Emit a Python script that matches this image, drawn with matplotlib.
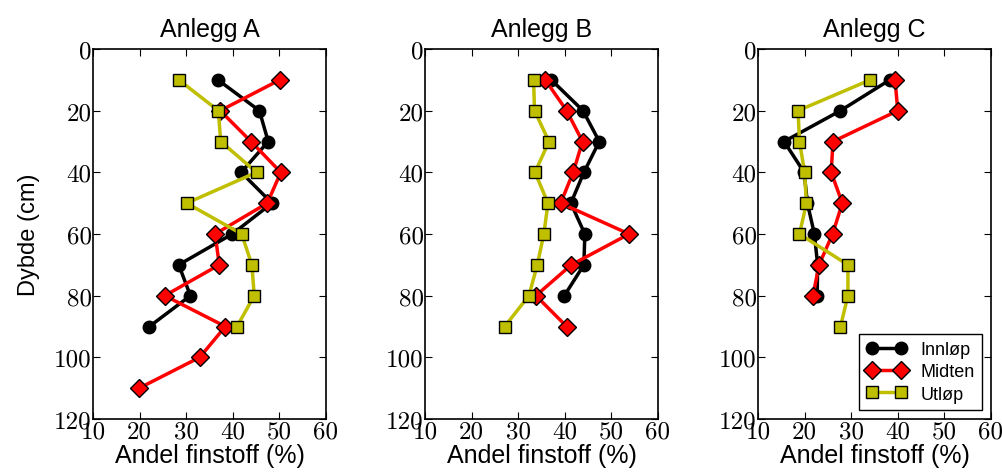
import matplotlib
matplotlib.use("Agg")
import matplotlib.pyplot as plt

plt.rcParams["font.family"] = ["Liberation Sans", "DejaVu Sans"]
plt.rcParams["axes.formatter.use_mathtext"] = True

# depth (cm)
depth_A = [10, 20, 30, 40, 50, 60, 70, 80, 90, 100, 110]
depth_B = [10, 20, 30, 40, 50, 60, 70, 80, 90]
depth_C = [10, 20, 30, 40, 50, 60, 70, 80, 90]

# Anlegg A
innlop_A = [36.8, 45.7, 47.6, 41.8, 48.4, 39.9, 28.4, 30.9, 22.1]
midten_A = [50.1, 37.3, 43.9, 50.3, 47.4, 36.2, 37.1, 25.4, 38.4, 32.9, 19.9]
utlop_A = [28.4, 36.9, 37.4, 45.1, 30.1, 41.9, 44.1, 44.6, 40.9]

# Anlegg B
innlop_B = [37.1, 43.9, 47.4, 44.1, 41.3, 44.3, 44.1, 39.9]
midten_B = [35.8, 40.4, 43.8, 41.8, 39.1, 53.8, 41.4, 33.8, 40.4]
utlop_B = [33.3, 33.5, 36.6, 33.6, 36.4, 35.5, 34.1, 32.3, 27.1]

# Anlegg C
innlop_C = [38.3, 27.7, 15.6, 19.9, 20.6, 22.1, 22.8, 22.7]
midten_C = [39.4, 40.0, 26.1, 25.7, 28.1, 26.0, 23.1, 21.8]
utlop_C = [34.1, 18.6, 18.9, 20.0, 20.4, 18.9, 29.3, 29.3, 27.7]

titles = ["Anlegg A", "Anlegg B", "Anlegg C"]
x_ticks = [10, 20, 30, 40, 50, 60]
y_ticks = [0, 20, 40, 60, 80, 100, 120]
panels = [
    (depth_A, innlop_A, midten_A, utlop_A),
    (depth_B, innlop_B, midten_B, utlop_B),
    (depth_C, innlop_C, midten_C, utlop_C),
]

YELLOW = (0.75, 0.75, 0.0)

fig = plt.figure(figsize=(10.03, 4.77), dpi=100)
lefts = [93, 425, 758]
width = 233
for i, (depth, inn, mid, utl) in enumerate(panels):
    ax = fig.add_axes([lefts[i] / 1003, (477 - 420) / 477, width / 1003, 370 / 477])
    ax.plot(inn, depth[:len(inn)], color="k", marker="o", markersize=9,
            linewidth=2.5, markeredgecolor="k", label="Innløp")
    ax.plot(mid, depth[:len(mid)], color="r", marker="D", markersize=9,
            linewidth=2.5, markeredgecolor="k", label="Midten")
    ax.plot(utl, depth[:len(utl)], color=YELLOW, marker="s", markersize=9,
            linewidth=2.5, markeredgecolor="k", label="Utløp")
    ax.set_xlim(10, 60)
    ax.set_ylim(120, 0)
    ax.set_xticks(x_ticks)
    ax.set_yticks(y_ticks)
    # serif (Computer Modern) tick labels like the original
    ax.set_xticklabels([str(v) for v in x_ticks], fontfamily="cmr10")
    ax.set_yticklabels([str(v) for v in y_ticks], fontfamily="cmr10")
    ax.tick_params(direction="in", top=True, right=True, length=5,
                   labelsize=18, pad=1)
    for spine in ax.spines.values():
        spine.set_linewidth(1.2)
    ax.set_title(titles[i], fontsize=18, pad=9)
    ax.set_xlabel("Andel finstoff (%)", fontsize=18, labelpad=0)
    if i == 0:
        ax.set_ylabel("Dybde (cm)", fontsize=17, labelpad=10)
    if i == 2:
        ax.legend(loc="lower right", numpoints=2, fontsize=13, fancybox=False,
                  edgecolor="k", framealpha=1, handlelength=2.2,
                  borderaxespad=0.5, labelspacing=0.3, borderpad=0.4)

fig.savefig("out.png", dpi=100)
